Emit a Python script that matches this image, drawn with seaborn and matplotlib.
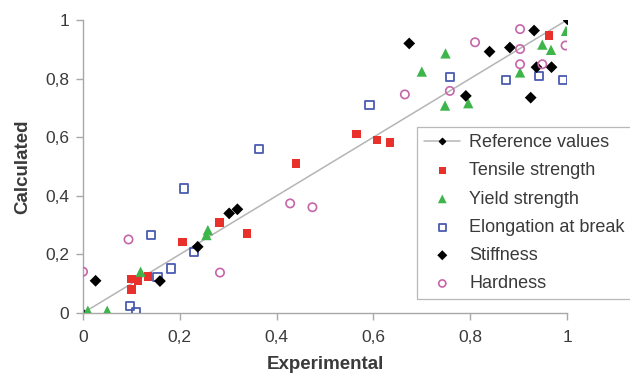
import matplotlib
matplotlib.use("Agg")
import matplotlib.pyplot as plt
import seaborn as sns
import numpy as np

# Reference line
ref_x = [0.0, 1.0]
ref_y = [0.0, 1.0]

tensile_x = [0.100, 0.100, 0.114, 0.134, 0.205, 0.282, 0.339, 0.440, 0.565, 0.607, 0.634, 0.963]
tensile_y = [0.081, 0.116, 0.110, 0.124, 0.242, 0.308, 0.271, 0.511, 0.611, 0.590, 0.582, 0.947]

yield_x = [0.010, 0.050, 0.119, 0.255, 0.258, 0.700, 0.749, 0.748, 0.796, 0.903, 0.949, 0.967, 0.998]
yield_y = [0.008, 0.008, 0.141, 0.266, 0.283, 0.824, 0.886, 0.708, 0.716, 0.821, 0.916, 0.898, 0.963]

elong_x = [0.097, 0.110, 0.154, 0.140, 0.182, 0.229, 0.209, 0.364, 0.592, 0.758, 0.874, 0.942, 0.992]
elong_y = [0.024, 0.004, 0.122, 0.266, 0.152, 0.209, 0.425, 0.559, 0.710, 0.804, 0.795, 0.810, 0.795]

stiff_x = [0.026, 0.159, 0.237, 0.302, 0.319, 0.674, 0.791, 0.840, 0.882, 0.932, 0.925, 0.937, 0.968]
stiff_y = [0.110, 0.109, 0.226, 0.340, 0.354, 0.920, 0.741, 0.892, 0.906, 0.964, 0.735, 0.839, 0.839]

hard_x = [0.000, 0.094, 0.283, 0.428, 0.474, 0.665, 0.758, 0.810, 0.903, 0.903, 0.903, 0.949, 0.997]
hard_y = [0.141, 0.251, 0.138, 0.374, 0.361, 0.746, 0.758, 0.924, 0.969, 0.901, 0.849, 0.849, 0.913]

labels = ["Reference values", "Tensile strength", "Yield strength",
          "Elongation at break", "Stiffness", "Hardness"]
ticks = [0, 0.2, 0.4, 0.6, 0.8, 1.0]
tick_labels = ["0", "0,2", "0,4", "0,6", "0,8", "1"]

sns.set_theme(style="white")
plt.rcParams['font.family'] = ['Liberation Sans', 'DejaVu Sans']

fig = plt.figure(figsize=(6.3, 3.81), dpi=100)
ax = fig.add_axes([83/630, 1 - 313/381, 484/630, 293/381])

txt = "#3a3a3a"
grey = "#a8a8a8"

sns.lineplot(x=ref_x, y=ref_y, ax=ax, color="#b5b5b5", lw=1.1, marker="D",
             markersize=4, markerfacecolor="black", markeredgecolor="black",
             label=labels[0], zorder=1)
sns.scatterplot(x=tensile_x, y=tensile_y, ax=ax, marker="s", s=38, color="#e8312b",
                edgecolor="none", label=labels[1], zorder=3)
sns.scatterplot(x=yield_x, y=yield_y, ax=ax, marker="^", s=55, color="#3db54a",
                edgecolor="none", label=labels[2], zorder=3)
sns.scatterplot(x=elong_x, y=elong_y, ax=ax, marker="s", s=34, facecolor="none",
                edgecolor="#4a5cb0", linewidth=1.3, label=labels[3], zorder=3)
sns.scatterplot(x=stiff_x, y=stiff_y, ax=ax, marker="D", s=36, color="black",
                edgecolor="none", label=labels[4], zorder=3)
sns.scatterplot(x=hard_x, y=hard_y, ax=ax, marker="o", s=36, facecolor="none",
                edgecolor="#c665a8", linewidth=1.2, label=labels[5], zorder=3)

ax.set_xlim(0, 1)
ax.set_ylim(0, 1)
ax.set_xticks(ticks)
ax.set_xticklabels(tick_labels)
ax.set_yticks(ticks)
ax.set_yticklabels(tick_labels)
for sp in ["top", "right"]:
    ax.spines[sp].set_visible(False)
for sp in ["left", "bottom"]:
    ax.spines[sp].set_color(grey)
    ax.spines[sp].set_linewidth(1.0)
ax.tick_params(axis="both", direction="out", length=5, width=1, color=grey,
               labelsize=12.5, labelcolor=txt, left=True, bottom=True)
ax.tick_params(axis="x", pad=7)
ax.tick_params(axis="y", pad=5)
for lab in ax.get_xticklabels() + ax.get_yticklabels():
    lab.set_clip_on(False)

ax.set_xlabel("Experimental", fontsize=13.5, fontweight="bold", color=txt, labelpad=8)
ax.set_ylabel("Calculated", fontsize=13.5, fontweight="bold", color=txt, labelpad=10)

leg = ax.legend(loc="upper left", bbox_to_anchor=(417/630, 1 - 127/381),
                bbox_transform=fig.transFigure, fontsize=13, frameon=True,
                fancybox=False, edgecolor="#b8b8b8", framealpha=1,
                handlelength=2.0, handletextpad=0.5, labelspacing=0.62,
                borderpad=0.4, borderaxespad=0, markerscale=0.85)
leg.get_frame().set_linewidth(0.9)
for t in leg.get_texts():
    t.set_color(txt)

fig.savefig("out.png", dpi=100)
